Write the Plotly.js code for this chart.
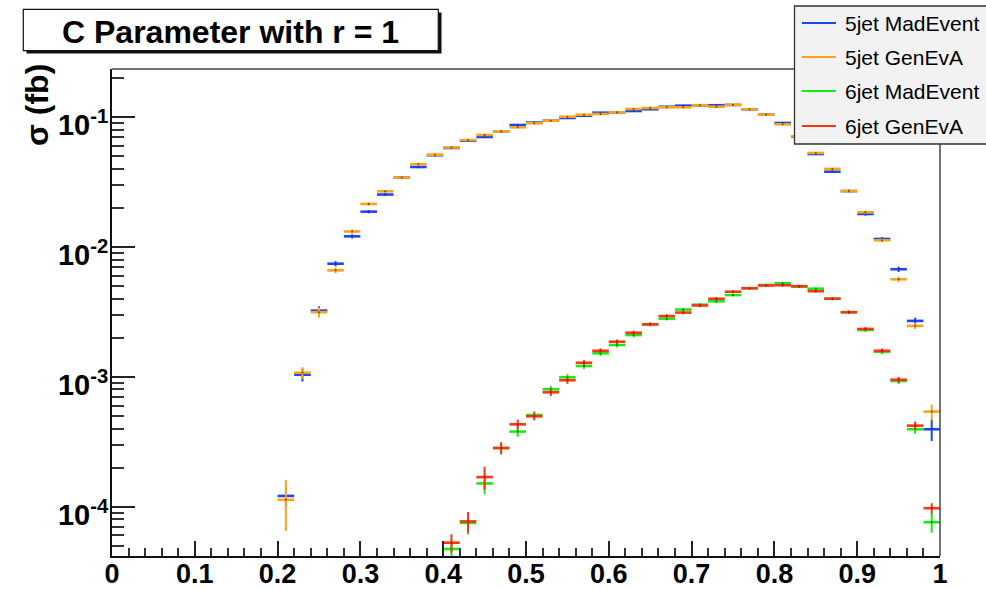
<!DOCTYPE html>
<html>
<head>
<meta charset="utf-8">
<script src="https://cdn.plot.ly/plotly-3.0.1.min.js"></script>
<style>
  html, body { margin: 0; padding: 0; background: #ffffff; }
  #chart { width: 986px; height: 589px; }
</style>
</head>
<body>
<div id="chart"></div>
<script>
// C parameter distribution, 5-jet and 6-jet samples, MadEvent vs GenEvA
const binWidth = 0.02;

// bin centres
const x5jet = [0.21, 0.23, 0.25, 0.27, 0.29, 0.31, 0.33, 0.35, 0.37, 0.39,
               0.41, 0.43, 0.45, 0.47, 0.49, 0.51, 0.53, 0.55, 0.57, 0.59,
               0.61, 0.63, 0.65, 0.67, 0.69, 0.71, 0.73, 0.75, 0.77, 0.79,
               0.81, 0.83, 0.85, 0.87, 0.89, 0.91, 0.93, 0.95, 0.97, 0.99];
const x6jet = [0.41, 0.43, 0.45, 0.47, 0.49, 0.51, 0.53, 0.55, 0.57, 0.59,
               0.61, 0.63, 0.65, 0.67, 0.69, 0.71, 0.73, 0.75, 0.77, 0.79,
               0.81, 0.83, 0.85, 0.87, 0.89, 0.91, 0.93, 0.95, 0.97, 0.99];

// cross sections (fb) per bin
const sigma5jetMadEvent = [1.21e-4, 1.04e-3, 3.24e-3, 7.45e-3, 1.21e-2, 1.875e-2, 2.54e-2, 3.43e-2, 4.14e-2, 5.10e-2,
                           5.80e-2, 6.60e-2, 7.05e-2, 7.80e-2, 8.72e-2, 9.10e-2, 9.42e-2, 0.0988, 0.1028, 0.1085,
                           0.1093, 0.1118, 0.1153, 0.1205, 0.1229, 0.1238, 0.1238, 0.1245, 0.1153, 0.1047,
                           0.0904, 0.0710, 0.0521, 0.0381, 0.0270, 0.0180, 0.01155, 6.75e-3, 2.70e-3, 3.95e-4];
const sigma5jetGenEvA   = [1.13e-4, 1.077e-3, 3.15e-3, 6.62e-3, 1.32e-2, 2.15e-2, 2.69e-2, 3.43e-2, 4.35e-2, 5.15e-2,
                           5.85e-2, 6.68e-2, 7.31e-2, 7.80e-2, 8.37e-2, 8.99e-2, 9.42e-2, 0.1010, 0.1047, 0.1060,
                           0.1093, 0.1159, 0.1180, 0.1194, 0.1194, 0.1238, 0.1207, 0.1245, 0.1153, 0.1047,
                           0.0883, 0.0714, 0.0531, 0.0400, 0.0270, 0.01854, 0.01128, 5.65e-3, 2.47e-3, 5.40e-4];
const sigma6jetMadEvent = [4.72e-5, 7.5e-5, 1.51e-4, 2.83e-4, 3.79e-4, 5.08e-4, 8.02e-4, 9.93e-4, 1.213e-3, 1.52e-3,
                           1.76e-3, 2.10e-3, 2.54e-3, 2.81e-3, 3.30e-3, 3.60e-3, 3.82e-3, 4.27e-3, 4.82e-3, 5.10e-3,
                           5.26e-3, 4.95e-3, 4.78e-3, 4.00e-3, 3.15e-3, 2.30e-3, 1.56e-3, 9.30e-4, 3.95e-4, 7.59e-5];
const sigma6jetGenEvA   = [5.28e-5, 7.7e-5, 1.69e-4, 2.83e-4, 4.31e-4, 4.97e-4, 7.61e-4, 9.42e-4, 1.285e-3, 1.59e-3,
                           1.866e-3, 2.19e-3, 2.54e-3, 2.94e-3, 3.13e-3, 3.55e-3, 4.00e-3, 4.53e-3, 4.82e-3, 5.06e-3,
                           5.08e-3, 5.00e-3, 4.57e-3, 4.00e-3, 3.15e-3, 2.34e-3, 1.59e-3, 9.51e-4, 4.21e-4, 9.73e-5];

// statistical errors per bin
const err5jetMadEvent = [2.0e-5, 1.2e-4, 2.6e-4, 3.5e-4, 4.5e-4, 5.5e-4, 6.5e-4, 7.5e-4, 8.5e-4, 9.5e-4,
                         1.0e-3, 1.1e-3, 1.1e-3, 1.2e-3, 1.2e-3, 1.3e-3, 1.3e-3, 1.3e-3, 1.4e-3, 1.4e-3,
                         1.4e-3, 1.4e-3, 1.4e-3, 1.5e-3, 1.5e-3, 1.5e-3, 1.5e-3, 1.5e-3, 1.4e-3, 1.4e-3,
                         1.3e-3, 1.2e-3, 1.0e-3, 8.5e-4, 7.0e-4, 5.5e-4, 4.0e-4, 3.2e-4, 1.6e-4, 7.5e-5];
const err5jetGenEvA   = [4.8e-5, 1.1e-4, 2.8e-4, 3.2e-4, 4.6e-4, 5.8e-4, 6.6e-4, 7.4e-4, 8.6e-4, 9.4e-4,
                         1.0e-3, 1.1e-3, 1.1e-3, 1.2e-3, 1.2e-3, 1.3e-3, 1.3e-3, 1.3e-3, 1.4e-3, 1.4e-3,
                         1.4e-3, 1.4e-3, 1.4e-3, 1.5e-3, 1.5e-3, 1.5e-3, 1.5e-3, 1.5e-3, 1.4e-3, 1.4e-3,
                         1.3e-3, 1.2e-3, 1.0e-3, 8.6e-4, 7.0e-4, 5.6e-4, 3.8e-4, 2.6e-4, 1.3e-4, 7.0e-5];
const err6jetMadEvent = [8.0e-6, 1.4e-5, 2.6e-5, 3.0e-5, 3.4e-5, 3.5e-5, 5.0e-5, 5.6e-5, 6.0e-5, 7.0e-5,
                         7.5e-5, 8.0e-5, 8.5e-5, 9.0e-5, 9.5e-5, 1.0e-4, 1.0e-4, 1.05e-4, 1.1e-4, 1.1e-4,
                         1.1e-4, 1.1e-4, 1.05e-4, 1.0e-4, 9.0e-5, 8.0e-5, 6.5e-5, 5.0e-5, 3.0e-5, 1.3e-5];
const err6jetGenEvA   = [8.6e-6, 1.4e-5, 3.4e-5, 3.0e-5, 3.8e-5, 3.5e-5, 4.8e-5, 5.8e-5, 6.2e-5, 7.0e-5,
                         7.5e-5, 8.0e-5, 8.5e-5, 9.0e-5, 9.5e-5, 1.0e-4, 1.0e-4, 1.05e-4, 1.1e-4, 1.1e-4,
                         1.1e-4, 1.1e-4, 1.05e-4, 1.0e-4, 9.0e-5, 8.0e-5, 6.5e-5, 5.0e-5, 3.2e-5, 9.0e-6];

const seriesNames  = ['5jet MadEvent', '5jet GenEvA', '6jet MadEvent', '6jet GenEvA'];
const seriesColors = ['#1a46ff', '#ffa214', '#14ee14', '#ff3412'];

const xTickVals = [0, 0.1, 0.2, 0.3, 0.4, 0.5, 0.6, 0.7, 0.8, 0.9, 1];
const xTickText = ['0', '0.1', '0.2', '0.3', '0.4', '0.5', '0.6', '0.7', '0.8', '0.9', '1'];
const yTickVals = [1e-4, 1e-3, 1e-2, 1e-1];
const yTickText = ['10<sup>-4</sup>', '10<sup>-3</sup>', '10<sup>-2</sup>', '10<sup>-1</sup>'];

// minor ticks at 2..9 of every decade
const yMinorVals = [];
for (let e = -5; e <= -1; e++) {
  for (let m = 2; m <= 9; m++) yMinorVals.push(m * Math.pow(10, e));
}

// ---- layout geometry (pixels) ----
const W = 986, H = 589;
const M = { l: 112, r: 46, t: 69, b: 33 };
const pw = W - M.l - M.r, ph = H - M.t - M.b;
const px = v => (v - M.l) / pw;          // pixel -> paper x
const py = v => (H - M.b - v) / ph;      // pixel -> paper y

const FONT = 'Liberation Sans, Arial, Helvetica, sans-serif';

function histTrace(xs, ys, errs, color) {
  return {
    type: 'scatter',
    mode: 'markers',
    x: xs,
    y: ys,
    showlegend: false,
    hoverinfo: 'x+y',
    marker: { size: 2, color: 'rgba(50,50,50,0.75)' },
    error_x: { type: 'constant', value: binWidth / 2, width: 0, thickness: 2.6, color: color },
    error_y: { type: 'data', array: errs, width: 0, thickness: 2, color: color }
  };
}

const data = [
  histTrace(x5jet, sigma5jetMadEvent, err5jetMadEvent, seriesColors[0]),
  histTrace(x5jet, sigma5jetGenEvA, err5jetGenEvA, seriesColors[1]),
  histTrace(x6jet, sigma6jetMadEvent, err6jetMadEvent, seriesColors[2]),
  histTrace(x6jet, sigma6jetGenEvA, err6jetGenEvA, seriesColors[3])
];

const shapes = [
  // frame top and right
  { type: 'line', xref: 'paper', yref: 'paper', x0: 0, x1: 1, y0: 1, y1: 1,
    line: { color: '#444', width: 1.5 } },
  { type: 'line', xref: 'paper', yref: 'paper', x0: 1, x1: 1, y0: 0, y1: 1,
    line: { color: '#444', width: 1.5 } },
  // title box shadow and box
  { type: 'rect', xref: 'paper', yref: 'paper', layer: 'above',
    x0: px(26.5), x1: px(441.5), y0: py(53.5), y1: py(12.5),
    fillcolor: '#111', line: { width: 0 } },
  { type: 'rect', xref: 'paper', yref: 'paper', layer: 'above',
    x0: px(23.3), x1: px(438.3), y0: py(50.7), y1: py(9.3),
    fillcolor: '#ffffff', line: { color: '#111', width: 1.2 } },
  // legend box
  { type: 'rect', xref: 'paper', yref: 'paper', layer: 'above',
    x0: px(794.5), x1: px(987), y0: py(144), y1: py(6),
    fillcolor: '#f2f2f2', line: { color: '#333', width: 1.3 } }
];

const legendRows = [23, 57, 91, 126];
const annotations = [
  { xref: 'paper', yref: 'paper', x: px(230.5), y: py(32), xanchor: 'center', yanchor: 'middle',
    text: 'C Parameter with r = 1', showarrow: false,
    font: { family: FONT, size: 32, color: '#000', weight: 'bold' } },
  { xref: 'paper', yref: 'paper', x: px(37), y: py(105), xanchor: 'center', yanchor: 'middle',
    text: 'σ (fb)', textangle: -90, showarrow: false,
    font: { family: FONT, size: 32, color: '#000', weight: 'bold' } }
];

seriesNames.forEach((name, i) => {
  const yy = legendRows[i];
  shapes.push({ type: 'line', xref: 'paper', yref: 'paper', layer: 'above',
    x0: px(802), x1: px(836), y0: py(yy), y1: py(yy),
    line: { color: seriesColors[i], width: 2.2 } });
  annotations.push({ xref: 'paper', yref: 'paper', x: px(843), y: py(yy),
    xanchor: 'left', yanchor: 'middle', text: name, showarrow: false,
    font: { family: FONT, size: 21, color: '#000' } });
});

const layout = {
  width: W, height: H,
  margin: M,
  paper_bgcolor: '#ffffff',
  plot_bgcolor: '#ffffff',
  showlegend: false,
  xaxis: {
    range: [0, 1],
    tickmode: 'array', tickvals: xTickVals, ticktext: xTickText,
    ticks: 'inside', ticklen: 15, tickwidth: 2, tickcolor: '#222',
    minor: { dtick: 0.02, tick0: 0, ticks: 'inside', ticklen: 8, tickwidth: 2, tickcolor: '#333' },
    showline: true, linecolor: '#111', linewidth: 2,
    showgrid: false, zeroline: false,
    ticklabelstandoff: -7,
    tickfont: { family: FONT, size: 27, color: '#000', weight: 'bold' }
  },
  yaxis: {
    type: 'log',
    range: [-4.38, -0.628],
    tickmode: 'array', tickvals: yTickVals, ticktext: yTickText,
    ticks: 'inside', ticklen: 23, tickwidth: 2, tickcolor: '#222',
    minor: { tickmode: 'array', tickvals: yMinorVals, ticks: 'inside', ticklen: 12, tickwidth: 2, tickcolor: '#333' },
    showline: true, linecolor: '#111', linewidth: 2,
    showgrid: false, zeroline: false,
    ticklabelstandoff: -4,
    ticklabelshift: 8,
    tickfont: { family: FONT, size: 29, color: '#000', weight: 'bold' }
  },
  shapes: shapes,
  annotations: annotations
};

Plotly.newPlot('chart', data, layout, { displayModeBar: false, staticPlot: true });
</script>
</body>
</html>
